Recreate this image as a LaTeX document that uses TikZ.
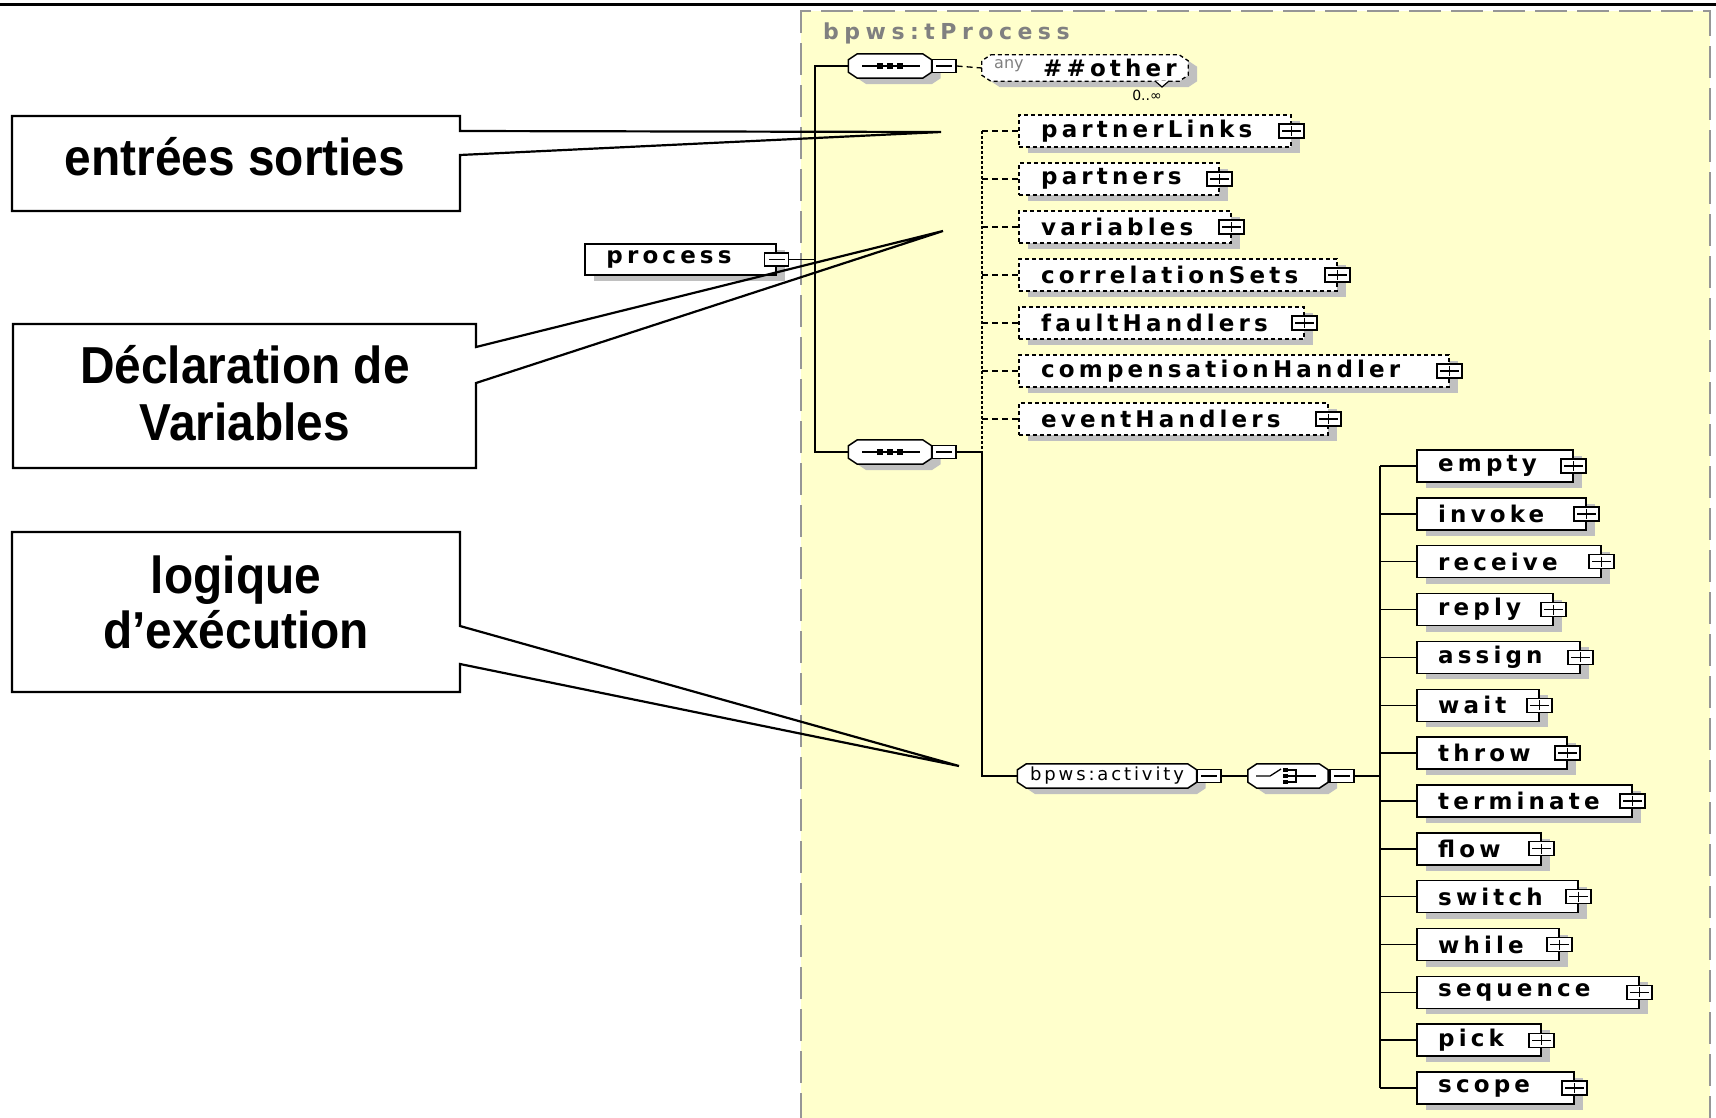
\documentclass[tikz,border=0pt]{standalone}
\usepackage{fontspec}
\setmainfont{DejaVu Sans}
\newfontfamily\elemfont{DejaVu Sans}[LetterSpace=18]
\newfontfamily\titlefont{DejaVu Sans}[LetterSpace=25]
\newfontfamily\typefont{DejaVu Sans}[LetterSpace=16]
\newfontfamily\calloutfont{Liberation Sans}[FakeStretch=0.92]
\usetikzlibrary{shadows}
\definecolor{panel}{RGB}{255,255,204}
\definecolor{panelborder}{RGB}{150,150,150}
\definecolor{shadowgray}{RGB}{192,192,192}
\definecolor{titlegray}{RGB}{128,128,128}

\tikzset{
  tree/.style={line width=1.5pt},
  optline/.style={line width=1.3pt, dash pattern=on 6pt off 4pt},
  optbar/.style={line width=1.6pt, dash pattern=on 3pt off 2pt},
  elshadow/.style={drop shadow={shadow xshift=9pt, shadow yshift=-6pt, fill=shadowgray, opacity=1}},
  elembox/.style={draw, line width=1.5pt, fill=white, rectangle, inner sep=0pt, minimum height=32pt, elshadow},
  optbox/.style={elembox, dash pattern=on 4pt off 3pt},
  elemlabel/.style={inner sep=0pt, anchor=west, font=\elemfont\bfseries\fontsize{23}{26}\selectfont},
  slot/.style={rectangle, inner sep=0pt, minimum height=24pt},
  % octagonal outline around a named slot node
  octpath/.style={insert path={([xshift=9pt]#1.north west) -- ([xshift=-9pt]#1.north east) -- ([yshift=-6pt]#1.north east)
      -- ([yshift=6pt]#1.south east) -- ([xshift=-9pt]#1.south east) -- ([xshift=9pt]#1.south west)
      -- ([yshift=6pt]#1.south west) -- ([yshift=-6pt]#1.north west) -- cycle}},
  minusbox/.style={draw, fill=white, line width=1.3pt, rectangle, inner sep=0pt, minimum width=24pt, minimum height=13pt,
    path picture={\draw[line width=1.3pt] ([xshift=4pt]path picture bounding box.west) -- ([xshift=-4pt]path picture bounding box.east);}},
  plusbox/.style={draw, fill=white, line width=1.3pt, rectangle, inner sep=0pt, minimum width=25pt, minimum height=14pt,
    path picture={\draw[line width=1.3pt] ([xshift=3pt]path picture bounding box.west) -- ([xshift=-3pt]path picture bounding box.east)
      ([yshift=-2pt]path picture bounding box.north) -- ([yshift=2pt]path picture bounding box.south);}},
  callout/.style={draw, line width=2.2pt, line join=miter},
  calloutlabel/.style={inner sep=0pt, anchor=base, font=\calloutfont\bfseries\fontsize{52}{57}\selectfont},
}
\newcommand\octframe[2][]{%
  \begin{scope}[transform canvas={shift={(9pt,-6pt)}}]
    \fill[shadowgray, octpath=#2];
  \end{scope}
  \draw[line width=1.5pt, fill=white, #1, octpath=#2];
}

\begin{document}
\begin{tikzpicture}[x=1pt,y=-1pt]
\useasboundingbox (0,0) rectangle (1716,1117);
\fill[white] (0,0) rectangle (1716,1117);

% schema panel
\fill[panel] (801,11) rectangle (1710,1125);
\draw[panelborder, line width=2pt, dash pattern=on 32pt off 10pt] (801,1125) -- (801,11) -- (1710,11) -- (1710,1125);
\draw[line width=3pt] (0,4) -- (1716,4);

\node[anchor=west, inner sep=0pt, text=titlegray, font=\titlefont\bfseries\fontsize{22}{25}\selectfont] (title) at (823,33) {bpws:tProcess};

% bars of the tree
\coordinate (bar1) at (815,0);
\coordinate (bar2) at (982,0);
\coordinate (bar3) at (1380,0);

% root element
\node[elembox, minimum width=191pt, minimum height=31pt] (process) at (680.5,259.5) {};
\node[elemlabel] (process-t) at ([xshift=22pt]process.west) {process};
\node[minusbox] (process-m) at (process.east) {};
\draw[tree] (process-m.east) -- (process-m.east -| bar1);

% sequence compositors
\node[slot, minimum width=83pt] (seq1) at (890,66) {};
\node[slot, minimum width=83pt] (seq2) at (890,452) {};
\foreach \s in {seq1,seq2}{
  \octframe{\s}
  \draw[line width=1.3pt] ([xshift=-28pt]\s.center) -- ([xshift=30pt]\s.center);
  \foreach \dx in {-10,0,10}
    \fill ([xshift=\dx pt]\s.center) +(-3,-3) rectangle +(3,3);
}
\node[minusbox] (seq1-m) at (944,66) {};
\node[minusbox] (seq2-m) at (944,452) {};
\draw[tree] (seq1.west) -- (seq1.west -| bar1) -- (seq2.west -| bar1) -- (seq2.west);

% wildcard
\node[slot, minimum width=206pt, minimum height=26pt] (any) at (1085,68) {};
\octframe[line width=1.3pt, dash pattern=on 4pt off 3pt]{any}
\node[anchor=west, inner sep=0pt, text=titlegray, font=\fontsize{16}{18}\selectfont] (any-k) at (994,66) {any};
\node[elemlabel] (any-v) at (1043,68) {\#\#other};
\draw[line width=1.2pt, fill=white] (1155,81) -- (1162,87) -- (1169,81);
\node[inner sep=0pt, font=\fontsize{14}{16}\selectfont] (occ) at (1147,95) {0..∞};
\draw[optline] (seq1-m.east) -- (any.west);

% optional children
\draw[tree] (seq2-m.east) -- (seq2-m.east -| bar2);
\foreach \n/\r [count=\i from 0] in {partnerLinks/1290, partners/1218, variables/1230, correlationSets/1336,
    faultHandlers/1303, compensationHandler/1448, eventHandlers/1327}{
  \node[optbox, minimum width={\r-1018}, anchor=west] (\n) at (1018,{131+48*\i}) {};
  \node[elemlabel] (\n-t) at ([xshift=23pt]\n.west) {\n};
  \node[plusbox] (\n-p) at (\n.east) {};
  \draw[optline] (\n.west -| bar2) -- (\n.west);
}
\draw[optbar] (partnerLinks.west -| bar2) -- (seq2-m.east -| bar2);

% activity group and choice
\node[slot, minimum width=179pt] (act) at (1107,776) {};
\octframe{act}
\node[inner sep=0pt, font=\typefont\fontsize{18}{20}\selectfont] (act-t) at (act.center) {bpws:activity};
\node[minusbox] (act-m) at (1209,776) {};
\node[slot, minimum width=80pt] (choice) at (1288,776) {};
\octframe{choice}
\node[minusbox] (choice-m) at (1342,776) {};
\draw[line width=1.3pt] (1256,776) -- (1270,776) -- (1281,769);
\foreach \dy in {-6,0,6}
  \fill (1283,{776+\dy-2}) rectangle (1288,{776+\dy+2});
\draw[line width=1.3pt] (1288,770) -- (1296,770) -- (1296,782) -- (1288,782)
      (1288,776) -- (1316,776);
\draw[tree] (seq2-m.east -| bar2) -- (act.west -| bar2) -- (act.west);
\draw[tree] (act-m.east) -- (choice.west);
\draw[tree] (choice-m.east) -- (choice-m.east -| bar3);

\foreach \n/\r [count=\i from 0] in {empty/1572, invoke/1585, receive/1600, reply/1552, assign/1579, wait/1538,
    throw/1566, terminate/1631, flow/1540, switch/1577, while/1558, sequence/1638, pick/1540, scope/1573}{
  \node[elembox, minimum width={\r-1416}, anchor=west] (\n) at (1416,{466+47.85*\i}) {};
  \node[elemlabel] (\n-t) at ([xshift=22pt]\n.west) {\n};
  \node[plusbox] (\n-p) at (\n.east) {};
  \draw[tree] (\n.west -| bar3) -- (\n.west);
}
\draw[tree] (empty.west -| bar3) -- (scope.west -| bar3);

% callouts
\coordinate (tip1) at (941,132);
\coordinate (tip2) at (943,231);
\coordinate (tip3) at (959,766);
\draw[callout] (12,116) -- (460,116) -- (460,131) -- (tip1) -- (460,155) -- (460,211) -- (12,211) -- cycle;
\draw[callout] (13,324) -- (476,324) -- (476,347) -- (tip2) -- (476,383) -- (476,468) -- (13,468) -- cycle;
\draw[callout] (12,532) -- (460,532) -- (460,626) -- (tip3) -- (460,664) -- (460,692) -- (12,692) -- cycle;
\node[calloutlabel] (c1) at (235,175) {entrées sorties};
\node[calloutlabel] (c2a) at (245,383) {Déclaration de};
\node[calloutlabel] (c2b) at (245,440) {Variables};
\node[calloutlabel] (c3a) at (236,593) {logique};
\node[calloutlabel] (c3b) at (236,648) {d’exécution};
\end{tikzpicture}
\end{document}
